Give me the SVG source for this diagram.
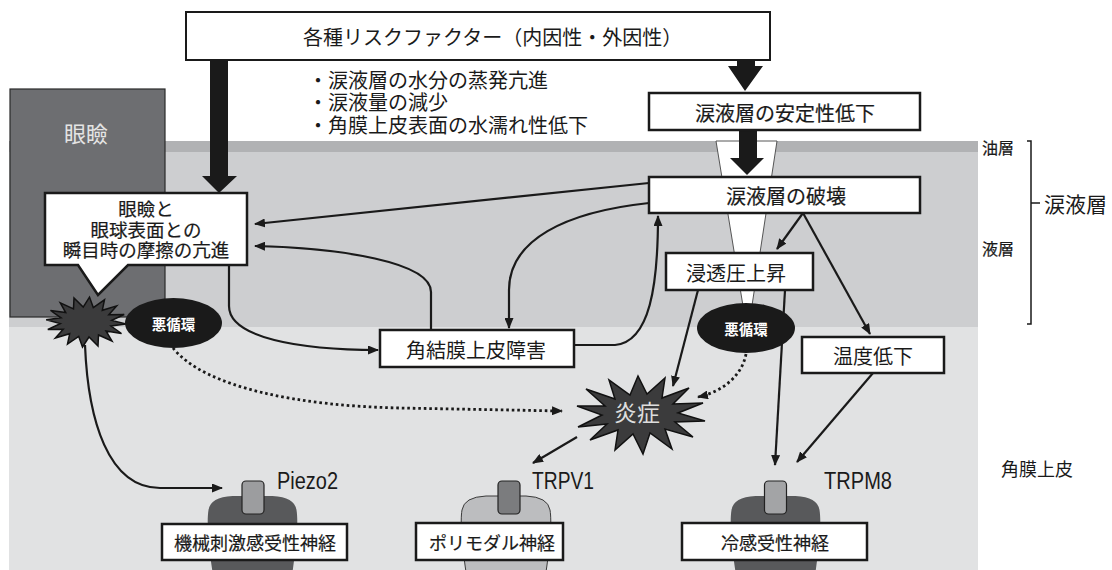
<svg xmlns="http://www.w3.org/2000/svg" xmlns:xlink="http://www.w3.org/1999/xlink" width="1112" height="570" viewBox="0 0 1112 570">
  <defs>
    <style>
      .jp { font-family: "Noto Sans CJK JP", "Noto Sans CJK SC", sans-serif; fill: #1a1a1a; }
      .lat { font-family: "Liberation Sans", Arial, sans-serif; fill: #1a1a1a; }
      .box { fill: #ffffff; stroke: #1a1a1a; stroke-width: 2.5; }
      .med { stroke: #1a1a1a; stroke-width: 0.2; }
      .c { text-anchor: middle; dominant-baseline: central; }
      .line { fill: none; stroke: #1a1a1a; stroke-width: 2.2; }
      .dot { fill: none; stroke: #1a1a1a; stroke-width: 2.8; stroke-dasharray: 2.6 2.9; }
      .fat { fill: #1a1a1a; }
      .loop { fill: #1a1a1a; }
      .loopt { fill: #ffffff; font-weight: bold; font-size: 14.5px; }
      .burst { fill: #3b3b3c; stroke: #111; stroke-width: 1.5; stroke-linejoin: miter; }
      .rcpt { stroke: #222; stroke-width: 1.2; }
    </style>
    <marker id="ah" markerUnits="userSpaceOnUse" markerWidth="11" markerHeight="9" refX="10" refY="4.5" orient="auto">
      <path d="M0,0 L11,4.5 L0,9 Z" fill="#1a1a1a"/>
    </marker>
    <!-- nerve ending body, centred on x=0 -->
    <path id="body" d="M-40,572 C-44,545 -46,522 -44,510 Q-42,497 -20,496 L20,496 Q42,497 44,510 C46,522 44,545 40,572 Z"/>
    <rect id="rcpt" x="-11" y="481" width="22" height="33" rx="4"/>
  </defs>

  <!-- background layers: oil layer, aqueous layer, corneal epithelium -->
  <g id="layers">
    <rect x="0" y="0" width="1112" height="570" fill="#ffffff"/>
    <rect x="9" y="141" width="969" height="12" fill="#b1b2b4"/>
    <rect x="9" y="152" width="969" height="175" fill="#cdced0"/>
    <rect x="9" y="327" width="969" height="243" fill="#e1e2e3"/>
    <!-- tear film break-up funnel -->
    <polygon points="716,141 777,141 751,312 744,312" fill="#ffffff" stroke="#444" stroke-width="0.9"/>
  </g>

  <!-- eyelid -->
  <g id="eyelid">
    <rect x="10" y="89" width="155" height="228" fill="#6d6e71" stroke="#2a2a2a" stroke-width="1.2"/>
    <text class="jp c" x="86" y="132" font-size="22" style="fill:#e4e4e4">眼瞼</text>
  </g>

  <!-- layer labels on the right -->
  <g id="side-labels">
    <text class="jp med" x="982" y="147" font-size="16" dominant-baseline="central">油層</text>
    <text class="jp med" x="982" y="248" font-size="16" dominant-baseline="central">液層</text>
    <path d="M1027,141 L1031,141 L1031,324 L1027,324 M1031,203 L1040,203" fill="none" stroke="#1a1a1a" stroke-width="1.5"/>
    <text class="jp" x="1044" y="203" font-size="21" dominant-baseline="central">涙液層</text>
    <text class="jp" x="1001" y="468" font-size="18" dominant-baseline="central">角膜上皮</text>
  </g>

  <!-- connectors -->
  <g id="connectors">
    <!-- thick block arrows -->
    <polygon class="fat" points="210,60 228,60 228,176 237,176 219,193 202,176 210,176"/>
    <polygon class="fat" points="737,60 755,60 755,66 763,66 745,91 728,66 737,66"/>
    <polygon class="fat" points="739,130 757,130 757,158 764,158 747,175 730,158 739,158"/>

    <!-- tear film break-up to friction -->
    <path class="line" d="M649,183 L255,224" marker-end="url(#ah)"/>
    <!-- tear film break-up to epithelial damage -->
    <path class="line" d="M649,203 C565,212 509,240 509,290 L509,328" marker-end="url(#ah)"/>
    <!-- epithelial damage back to tear film break-up -->
    <path class="line" d="M574,345 L615,345 C650,342 658,285 658,216" marker-end="url(#ah)"/>
    <!-- epithelial damage to friction -->
    <path class="line" d="M431,330 L431,292 C431,262 340,248 255,246" marker-end="url(#ah)"/>
    <!-- friction to epithelial damage -->
    <path class="line" d="M229,265 L229,306 C229,338 300,350 378,350" marker-end="url(#ah)"/>
    <!-- friction burst to mechanosensitive nerve -->
    <path class="line" d="M85,345 C88,420 108,488 160,488 L222,488" marker-end="url(#ah)"/>
    <!-- vicious cycles into inflammation -->
    <path class="dot" d="M173,348 C205,388 300,406 400,408 L562,411" marker-end="url(#ah)"/>
    <path class="dot" d="M746,354 C742,376 722,392 698,397" marker-end="url(#ah)"/>
    <!-- hyperosmolarity to inflammation -->
    <path class="line" d="M698,290 L673,386" marker-end="url(#ah)"/>
    <!-- hyperosmolarity to TRPM8 -->
    <path class="line" d="M785,290 L775,465" marker-end="url(#ah)"/>
    <!-- break-up to hyperosmolarity and to cooling -->
    <path class="line" d="M803,213 L777,249" marker-end="url(#ah)"/>
    <path class="line" d="M803,213 L870,334" marker-end="url(#ah)"/>
    <!-- cooling to TRPM8 -->
    <path class="line" d="M873,373 L797,462" marker-end="url(#ah)"/>
    <!-- inflammation to TRPV1 -->
    <path class="line" d="M577,437 L533,463" marker-end="url(#ah)"/>
  </g>

  <!-- risk factors -->
  <g id="risk">
    <rect class="box" x="186" y="12" width="584" height="48" style="stroke-width:2"/>
    <text class="jp" x="303" y="36" font-size="20" dominant-baseline="central">各種リスクファクター（内因性・外因性）</text>
  </g>

  <g id="risk-notes">
    <text class="jp" x="308" y="79" font-size="20" dominant-baseline="central">・涙液層の水分の蒸発亢進</text>
    <text class="jp" x="308" y="101" font-size="20" dominant-baseline="central">・涙液量の減少</text>
    <text class="jp" x="308" y="124" font-size="20" dominant-baseline="central">・角膜上皮表面の水濡れ性低下</text>
  </g>

  <g id="instability">
    <rect class="box" x="649" y="93" width="271" height="37"/>
    <text class="jp c med" x="785" y="112" font-size="20">涙液層の安定性低下</text>
  </g>

  <g id="breakup">
    <rect class="box" x="649" y="177" width="271" height="36"/>
    <text class="jp c med" x="786" y="195" font-size="20">涙液層の破壊</text>
  </g>

  <g id="osmolarity">
    <rect class="box" x="666" y="253" width="147" height="37"/>
    <text class="jp c" x="736" y="272" font-size="20">浸透圧上昇</text>
  </g>

  <g id="cooling">
    <rect class="box" x="802" y="337" width="142" height="36"/>
    <text class="jp c" x="873" y="355" font-size="20">温度低下</text>
  </g>

  <g id="epithelial-damage">
    <rect class="box" x="380" y="330" width="194" height="37"/>
    <text class="jp c" x="476" y="349" font-size="20">角結膜上皮障害</text>
  </g>

  <!-- friction callout with pointer to the burst -->
  <g id="friction">
    <path class="box" d="M45,193 L247,193 L247,265 L128,265 L98,295 L78,265 L45,265 Z" style="stroke-linejoin:miter"/>
    <text class="jp c med" x="146" y="208" font-size="18.5">眼瞼と</text>
    <text class="jp c med" x="146" y="228.5" font-size="18.5">眼球表面との</text>
    <text class="jp c med" x="146" y="249" font-size="18.5">瞬目時の摩擦の亢進</text>
  </g>

  <g id="friction-burst">
    <polygon class="burst" points="126,324 111,326 121.5,333.5 106,331 112,341 98.5,335 98,346 89,337 82.5,347 78.7,336.4 67.5,344 69.7,333.7 55.4,338 63.2,329.2 47.8,329.5 60.2,323.6 46.2,319.8 61,317.8 50.5,310.5 65.7,312.6 60.3,302.9 73.5,308.9 74,298 83.2,307.1 89.5,297.1 93.3,307.6 104.5,299.8 102.3,310.3 116.6,305.9 108.8,314.8 124.2,314.5 111.8,320.4"/>
  </g>

  <g id="cycle-left">
    <ellipse class="loop" cx="173.5" cy="323" rx="48.5" ry="25"/>
    <text class="jp c loopt" x="173.5" y="323">悪循環</text>
  </g>

  <g id="cycle-right">
    <ellipse class="loop" cx="746" cy="328" rx="49" ry="25"/>
    <text class="jp c loopt" x="746" y="328">悪循環</text>
  </g>

  <g id="inflammation">
    <polygon class="burst" points="705,421 675,422 693,437 665,429 672,449 650,433 643,454 633,434 615,450 618,430 590,440 607,424 578,427 602,415 577,406 605,406 586,389 615,399 609,380 630,395 638,376 647,394 665,378 662,398 689,388 673,404 703,403 678,413"/>
    <text class="jp c" x="637" y="411" font-size="23" style="fill:#dddddd">炎症</text>
  </g>

  <!-- sensory nerve endings -->
  <g id="nerve-mechano">
    <use xlink:href="#body" x="252.5" fill="#58595b"/>
    <use xlink:href="#rcpt" x="253" class="rcpt" fill="#9c9d9f"/>
    <text class="lat" x="277" y="489" font-size="23" textLength="61" lengthAdjust="spacingAndGlyphs">Piezo2</text>
    <rect class="box" x="162" y="524" width="185" height="36"/>
    <text class="jp c med" x="255" y="542" font-size="18">機械刺激感受性神経</text>
  </g>

  <g id="nerve-polymodal">
    <use xlink:href="#body" x="506" fill="#bcbdbf" stroke="#3a3a3a" stroke-width="1"/>
    <use xlink:href="#rcpt" x="509" class="rcpt" fill="#7b7c7e"/>
    <text class="lat" x="532" y="489" font-size="23" textLength="62" lengthAdjust="spacingAndGlyphs">TRPV1</text>
    <rect class="box" x="416" y="523" width="147" height="37"/>
    <text class="jp c med" x="492" y="542" font-size="18">ポリモダル神経</text>
  </g>

  <g id="nerve-cold">
    <use xlink:href="#body" x="775.5" fill="#58595b"/>
    <use xlink:href="#rcpt" x="775.5" class="rcpt" fill="#a3a4a6"/>
    <text class="lat" x="824" y="489" font-size="23" textLength="68" lengthAdjust="spacingAndGlyphs">TRPM8</text>
    <rect class="box" x="682" y="523" width="185" height="37"/>
    <text class="jp c med" x="775" y="542" font-size="18">冷感受性神経</text>
  </g>
</svg>
